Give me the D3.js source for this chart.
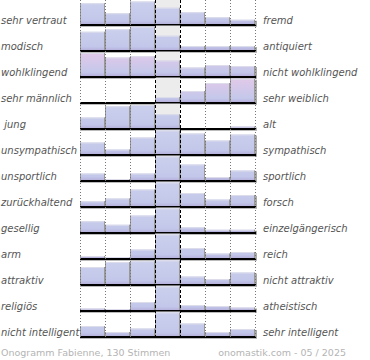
<!DOCTYPE html>
<html><head><meta charset="utf-8">
<script src="https://cdn.jsdelivr.net/npm/d3@7"></script>
<style>body{margin:0;background:#fff}svg{display:block}</style>
</head><body><svg id="c" width="370" height="360"></svg>
<script>
const leftLabels = ["sehr vertraut","modisch","wohlklingend","sehr männlich"," jung","unsympathisch","unsportlich","zurückhaltend","gesellig","arm","attraktiv","religiös","nicht intelligent"];
const rightLabels = ["fremd","antiquiert","nicht wohlklingend","sehr weiblich","alt","sympathisch","sportlich","forsch","einzelgängerisch","reich","nicht attraktiv","atheistisch","sehr intelligent"];
const bins = [0,1,2,3,4,5,6];
const values = [
  [89,49,96,71,53,33,23],
  [79,89,99,63,22,22,22],
  [98,80,85,68,40,50,46],
  [0,0,0,26,50,82,99],
  [48,93,98,61,6,6,12],
  [52,24,72,100,88,60,84],
  [32,10,32,100,68,18,44],
  [25,36,72,100,58,32,50],
  [49,35,72,100,25,15,15],
  [14,8,40,100,46,24,30],
  [74,94,97,100,36,26,52],
  [12,8,38,100,26,22,16],
  [46,22,36,100,56,22,34]
];
const pinkRows = [2,3];
const footerLeft = "Onogramm Fabienne, 130 Stimmen";
const footerRight = "onomastik.com - 05 / 2025";

const svg = d3.select("#c");
const x = d3.scaleBand().domain(bins).range([80,255]).padding(0);
const row = d3.scaleBand().domain(d3.range(leftLabels.length)).range([-0.5,337.5]).padding(0);
const rh = row.bandwidth();
const defs = svg.append("defs");

leftLabels.forEach((lab,i)=>{
  const top = row(i), base = top + rh;
  const y = d3.scaleLinear().domain([0,100]).range([base, base-25]);
  const gid = "g"+i;
  const g = defs.append("linearGradient").attr("id",gid).attr("gradientUnits","userSpaceOnUse")
    .attr("x1",0).attr("x2",0).attr("y1",top).attr("y2",base);
  const pink = pinkRows.includes(i);
  const stops = pink
    ? [[0,"#e3c9e8"],[0.45,"#d2c8ea"],[0.8,"#c4c8ea"],[0.92,"#b9b5e0"],[1,"#a79bcf"]]
    : [[0,"#cbd0ee"],[0.8,"#c3c8ea"],[0.92,"#b9b6e0"],[1,"#a79bcf"]];
  stops.forEach(s=>g.append("stop").attr("offset",s[0]).attr("stop-color",s[1]));

  const data = values[i].map((v,j)=>({v, j}));
  const G = svg.append("g");
  G.append("rect").attr("x",x(3)).attr("y",top).attr("width",x.bandwidth()).attr("height",rh).attr("fill","#ececec");
  const bars = G.selectAll(".b").data(data.filter(d=>d.v>0)).join("g").attr("class","b");
  bars.append("rect")
    .attr("x",d=>x(d.j)).attr("y",d=>y(d.v)).attr("width",x.bandwidth()).attr("height",d=>base-y(d.v))
    .attr("fill",`url(#${gid})`);
  bars.append("line")
    .attr("x1",d=>x(d.j)).attr("x2",d=>x(d.j)+x.bandwidth())
    .attr("y1",d=>y(d.v)+0.5).attr("y2",d=>y(d.v)+0.5).attr("stroke","#dcdcea").attr("stroke-width",1);
  bars.append("line")
    .attr("x1",d=>x(d.j)+0.5).attr("x2",d=>x(d.j)+0.5)
    .attr("y1",d=>y(d.v)).attr("y2",base).attr("stroke","#999").attr("stroke-width",1);
  bars.append("line")
    .attr("x1",d=>x(d.j)+x.bandwidth()-0.5).attr("x2",d=>x(d.j)+x.bandwidth()-0.5)
    .attr("y1",d=>y(d.v)).attr("y2",base).attr("stroke","#999").attr("stroke-width",1);
  const last = values[i][6];
  if (last>0) G.append("rect").attr("x",255).attr("y",y(last)+1).attr("width",2).attr("height",base-y(last)).attr("fill","#aaa");
  G.append("line").attr("x1",80).attr("x2",257).attr("y1",base+1).attr("y2",base+1).attr("stroke","#bbb").attr("stroke-width",1);
  G.append("line").attr("x1",80).attr("x2",256).attr("y1",base-0.5).attr("y2",base-0.5).attr("stroke","#000").attr("stroke-width",2);
  G.append("text").attr("x",1).attr("y",base-1.5).text(lab)
    .attr("font-family","DejaVu Sans").attr("font-style","italic").attr("font-size",10).attr("fill","#555").style("white-space","pre");
  G.append("text").attr("x",263).attr("y",base-1.5).text(rightLabels[i])
    .attr("font-family","DejaVu Sans").attr("font-style","italic").attr("font-size",10).attr("fill","#555");
});

const gridX = [0,1,2,5,6].map(k=>x(k)).concat([x(6)+x.bandwidth()]);
svg.append("g").selectAll("line").data(gridX).join("line")
  .attr("x1",d=>d+0.5).attr("x2",d=>d+0.5).attr("y1",0).attr("y2",339)
  .attr("stroke","#777").attr("stroke-width",1).attr("stroke-dasharray","1,2");
svg.append("g").selectAll("line").data([x(3),x(4)]).join("line")
  .attr("x1",d=>d+0.5).attr("x2",d=>d+0.5).attr("y1",0).attr("y2",339)
  .attr("stroke","#000").attr("stroke-width",1).attr("stroke-dasharray","3,2");

svg.append("text").attr("x",1).attr("y",356).text(footerLeft)
  .attr("font-family","DejaVu Sans").attr("font-size",9.5).attr("fill","#b4b4b4");
svg.append("text").attr("x",346).attr("y",356).attr("text-anchor","end").text(footerRight)
  .attr("font-family","DejaVu Sans").attr("font-size",9.5).attr("fill","#b4b4b4");
</script></body></html>
